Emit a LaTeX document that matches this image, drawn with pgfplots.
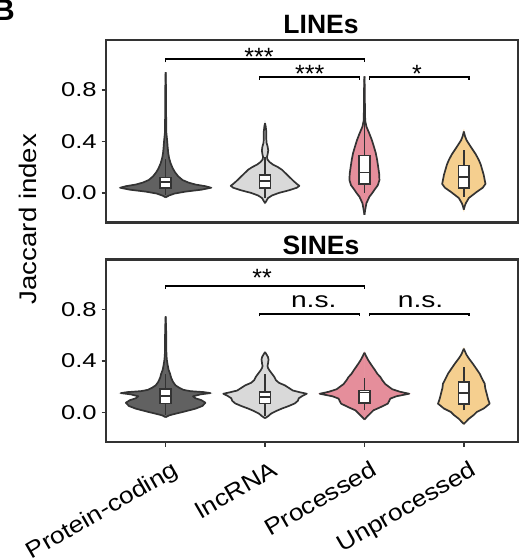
\documentclass[border=0pt]{standalone}
\usepackage{fontspec}
\setmainfont{Liberation Sans}
\newfontfamily\tickfont[FakeStretch=1.28]{Liberation Sans}
\newfontfamily\labfont[FakeStretch=1.15]{Liberation Sans}
\usepackage{pgfplots}
\usepackage{pgfplotstable}
\pgfplotsset{compat=1.18}
\definecolor{outl}{HTML}{333333}
\definecolor{cPC}{HTML}{616161}
\definecolor{cLN}{HTML}{D9D9D9}
\definecolor{cPR}{HTML}{E58E9B}
\definecolor{cUN}{HTML}{F5CF8F}

% ---- violin half-width profiles (y, half width in category units) ----
\pgfplotstableread{
y w
-0.034 0
-0.02 0.035
-0.005 0.09
0.01 0.2
0.025 0.36
0.04 0.458
0.052 0.4
0.065 0.3
0.08 0.23
0.1 0.17
0.13 0.125
0.16 0.095
0.19 0.072
0.23 0.05
0.27 0.035
0.31 0.026
0.36 0.02
0.4 0.016
0.43 0.012
0.47 0.007
0.6 0.005
0.8 0.004
0.939 0
}\tPCL
\pgfplotstableread{
y w
-0.08 0
-0.06 0.015
-0.04 0.03
-0.02 0.07
0.0 0.14
0.02 0.24
0.04 0.32
0.055 0.345
0.07 0.32
0.09 0.29
0.12 0.25
0.15 0.21
0.18 0.17
0.2 0.13
0.22 0.08
0.24 0.045
0.26 0.024
0.28 0.02
0.3 0.026
0.33 0.032
0.36 0.026
0.39 0.015
0.43 0.012
0.48 0.012
0.52 0.006
0.542 0
}\tLNL
\pgfplotstableread{
y w
-0.17 0
-0.13 0.008
-0.08 0.02
-0.03 0.05
0.0 0.08
0.023 0.1
0.06 0.135
0.1 0.151
0.15 0.148
0.204 0.138
0.26 0.127
0.31 0.114
0.36 0.095
0.41 0.075
0.46 0.05
0.515 0.02
0.56 0.008
0.65 0.005
0.8 0.004
0.905 0
}\tPRL
\pgfplotstableread{
y w
-0.13 0
-0.1 0.01
-0.08 0.02
-0.04 0.05
-0.01 0.1
0.01 0.134
0.04 0.19
0.07 0.218
0.1 0.21
0.14 0.2
0.18 0.185
0.22 0.17
0.257 0.15
0.3 0.12
0.335 0.09
0.37 0.06
0.41 0.027
0.44 0.012
0.477 0
}\tUNL
\pgfplotstableread{
y w
-0.037 0
-0.023 0.035
-0.01 0.1
0.003 0.17
0.029 0.3
0.05 0.37
0.075 0.4
0.095 0.36
0.11 0.3
0.125 0.275
0.14 0.35
0.15 0.45
0.158 0.38
0.165 0.25
0.175 0.18
0.19 0.14
0.21 0.1
0.236 0.075
0.27 0.055
0.3 0.045
0.33 0.03
0.37 0.02
0.41 0.012
0.45 0.008
0.55 0.006
0.65 0.005
0.746 0
}\tPCS
\pgfplotstableread{
y w
-0.045 0
-0.03 0.03
-0.01 0.06
0.01 0.11
0.03 0.17
0.05 0.24
0.07 0.3
0.09 0.33
0.11 0.34
0.13 0.38
0.145 0.42
0.155 0.36
0.17 0.28
0.19 0.24
0.21 0.2
0.23 0.14
0.25 0.11
0.275 0.094
0.3 0.07
0.327 0.044
0.345 0.03
0.36 0.025
0.38 0.03
0.41 0.035
0.43 0.03
0.45 0.015
0.469 0
}\tLNS
\pgfplotstableread{
y w
-0.055 0
-0.03 0.03
0.0 0.07
0.016 0.09
0.04 0.16
0.068 0.235
0.09 0.25
0.107 0.26
0.125 0.32
0.145 0.45
0.16 0.36
0.18 0.28
0.197 0.25
0.22 0.21
0.25 0.18
0.275 0.16
0.3 0.13
0.33 0.105
0.353 0.084
0.38 0.06
0.41 0.035
0.44 0.015
0.464 0
}\tPRS
\pgfplotstableread{
y w
-0.09 0
-0.07 0.025
-0.05 0.05
-0.02 0.1
0.003 0.13
0.03 0.2
0.068 0.26
0.1 0.245
0.145 0.23
0.19 0.215
0.223 0.21
0.26 0.185
0.3 0.16
0.34 0.125
0.379 0.09
0.42 0.05
0.45 0.025
0.495 0
}\tUNS

\newcommand{\violin}[3]{%
 \addplot[fill=#3, draw=#3, line width=0.6pt] table[x expr={#1+\thisrow{w}}, y=y]{#2} -- cycle;
 \addplot[fill=#3, draw=#3, line width=0.6pt] table[x expr={#1-\thisrow{w}}, y=y]{#2} -- cycle;
 \addplot[draw=outl, line width=1.7pt, line join=round] table[x expr={#1+\thisrow{w}}, y=y]{#2};
 \addplot[draw=outl, line width=1.7pt, line join=round] table[x expr={#1-\thisrow{w}}, y=y]{#2};
}
% center, lower whisker, q1, median, q3, upper whisker
\newcommand{\bxp}[6]{%
 \addplot[draw=outl, line width=1.7pt] table[row sep=\\, x expr={#1+\thisrow{x}}, y=y]{x y\\ 0 #2\\ 0 #6\\};
 \addplot[fill=white, draw=outl, line width=1.7pt] table[row sep=\\, x expr={#1+\thisrow{x}}, y=y]{x y\\ -0.055 #3\\ 0.055 #3\\ 0.055 #5\\ -0.055 #5\\} -- cycle;
 \addplot[draw=outl, line width=1.7pt] table[row sep=\\, x expr={#1+\thisrow{x}}, y=y]{x y\\ -0.055 #4\\ 0.055 #4\\};
}

\pgfplotsset{vstyle/.style={
  scale only axis, width=412pt, height=182.5pt,
  xmin=-0.6, xmax=3.545, ymin=-0.23, ymax=1.188,
  every axis/.append style={line width=2.2pt},
  axis line style={draw=outl, line width=2.2pt},
  ytick={0,0.4,0.8}, yticklabels={0.0,0.4,0.8},
  ytick pos=left, xtick pos=bottom,
  tick align=outside, major tick length=4.5pt,
  tick style={draw=outl, line width=1.6pt},
  /pgf/number format/assume math mode=true,
  yticklabel style={font=\tickfont\fontsize{20}{24}\selectfont, inner sep=0pt, anchor=east, xshift=-3.7pt},
}}

\begin{document}
\begin{tikzpicture}
\path[use as bounding box] (0pt,0pt) rectangle (520pt,-559pt);

\node[anchor=base west, inner sep=0pt, font=\bfseries\fontsize{30}{30}\selectfont] at (-7pt,-20.7pt) {B};
\node[anchor=base, inner sep=0pt, font=\bfseries\fontsize{26.5}{30}\selectfont] at (321pt,-33.3pt) {LINEs};
\node[anchor=base, inner sep=0pt, font=\bfseries\fontsize{26.5}{30}\selectfont] at (321pt,-254pt) {SINEs};
\node[rotate=90, inner sep=0pt, font=\labfont\fontsize{24}{27}\selectfont] at (28pt,-219pt) {Jaccard index};

% ---------------- LINEs ----------------
\begin{axis}[vstyle, at={(106pt,-40pt)}, anchor=north west, xtick=\empty]
\violin{0}{\tPCL}{cPC}
\violin{1}{\tLNL}{cLN}
\violin{2}{\tPRL}{cPR}
\violin{3}{\tUNL}{cUN}
\bxp{0}{-0.02}{0.036}{0.083}{0.12}{0.26}
\bxp{1}{-0.04}{0.04}{0.093}{0.14}{0.28}
\bxp{2}{0.0}{0.07}{0.158}{0.29}{0.6}
\bxp{3}{-0.03}{0.036}{0.122}{0.212}{0.335}
\addplot[black, line width=1.7pt] coordinates {(0,1.015) (0,1.038) (2,1.038) (2,1.015)};
\addplot[black, line width=1.7pt] coordinates {(0.945,0.878) (0.945,0.899) (1.95,0.899) (1.95,0.878)};
\addplot[black, line width=1.7pt] coordinates {(2.05,0.878) (2.05,0.899) (3.05,0.899) (3.05,0.878)};
\node[anchor=base, inner sep=0pt, font=\fontsize{25}{28}\selectfont] at (axis cs:0.94,0.987) {***};
\node[anchor=base, inner sep=0pt, font=\fontsize{25}{28}\selectfont] at (axis cs:1.45,0.855) {***};
\node[anchor=base, inner sep=0pt, font=\fontsize{25}{28}\selectfont] at (axis cs:2.53,0.855) {*};
\end{axis}

% ---------------- SINEs ----------------
\begin{axis}[vstyle, at={(106pt,-259.5pt)}, anchor=north west,
  xtick={0,1,2,3}, xticklabels={Protein-coding,lncRNA,Processed,Unprocessed},
  xticklabel style={font=\labfont\fontsize{23}{27}\selectfont, inner sep=0pt, xshift=6pt, yshift=-12pt, rotate=30, anchor=north east}]
\violin{0}{\tPCS}{cPC}
\violin{1}{\tLNS}{cLN}
\violin{2}{\tPRS}{cPR}
\violin{3}{\tUNS}{cUN}
\bxp{0}{-0.02}{0.07}{0.125}{0.18}{0.3}
\bxp{1}{-0.03}{0.07}{0.12}{0.16}{0.3}
\bxp{2}{0.016}{0.072}{0.155}{0.171}{0.265}
\bxp{3}{0.016}{0.068}{0.153}{0.236}{0.35}
\addplot[black, line width=1.7pt] coordinates {(0,0.961) (0,0.981) (2,0.981) (2,0.961)};
\addplot[black, line width=1.7pt] coordinates {(0.945,0.747) (0.945,0.767) (1.95,0.767) (1.95,0.747)};
\addplot[black, line width=1.7pt] coordinates {(2.05,0.747) (2.05,0.767) (3.05,0.767) (3.05,0.747)};
\node[anchor=base, inner sep=0pt, font=\fontsize{25}{28}\selectfont] at (axis cs:0.97,0.977) {**};
\node[anchor=base, inner sep=0pt, font=\tickfont\fontsize{22}{26}\selectfont] at (axis cs:1.49,0.818) {n.s.};
\node[anchor=base, inner sep=0pt, font=\tickfont\fontsize{22}{26}\selectfont] at (axis cs:2.565,0.818) {n.s.};
\end{axis}
\end{tikzpicture}
\end{document}
